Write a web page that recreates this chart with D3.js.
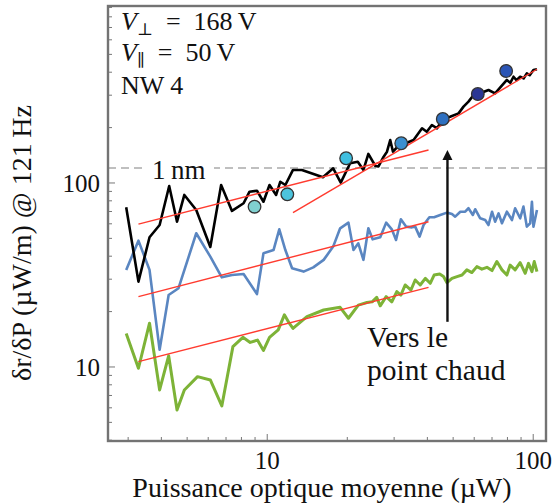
<!DOCTYPE html>
<html>
<head>
<meta charset="utf-8">
<script src="https://cdn.jsdelivr.net/npm/d3@7"></script>
<style>
  body { margin: 0; background: #fff; }
  svg text { fill: #111; }
</style>
</head>
<body>
<svg id="chart" width="552" height="504" font-family="'Liberation Serif', 'DejaVu Serif', serif"></svg>
<script>
// power (µW) and response δr/δP (µW/m)
const blackX = [2.95,3.28,3.61,3.94,4.28,4.58,4.88,5.41,6.11,6.71,7.37,8.15,8.58,9.15,9.68,10.2,10.8,11.2,11.7,12.5,13.5,16.2,17.7,18.9,20.5,21.9,23.0,24.0,25.5,26.2,27.4,28.2,29.0,29.7,31.8,33.5,35.5,38.2,39.8,41.6,43.5,46.0,48.7,52.4,54.7,57.1,59.7,63.2,67.9,71.9,75.2,79.6,82.0,84.3,86.5,89.3,92.0,94.6,97.0,100.2,103.3];
const blackY = [73.8,29.1,50.7,59.1,96.3,61.6,86.1,71.3,44.9,97.5,70.5,77.6,89.7,90.8,79.1,97.5,86.1,101.6,97.5,117.7,117.7,107.4,120.2,100.4,128,130.5,117.7,143.8,123.7,123,139,147.9,171.3,147.9,164.4,165.6,171.3,198.3,190,206.6,198.3,224.8,229.3,239,260,276.7,300.8,307.2,320,307.2,331,363,350,378,362,378,370,394,385,411,415];

const blueX = [2.95,3.28,3.61,3.94,4.26,4.64,5.41,6.11,6.75,7.37,8.15,9.15,9.68,10.56,11.1,11.7,12.4,13.7,14.9,16.3,17.7,18.8,20.2,21.1,22.0,23.0,24.0,24.9,26.6,28.0,29.4,30.5,31.8,33.3,35.0,36.0,37.4,38.7,40.7,42.4,44.7,47.4,49.5,50.9,53.2,55.5,57.1,59.3,60.5,63.2,66.0,67.9,70.0,71.9,74.1,76.3,79.6,83.2,85.5,89.3,91.9,94.6,97.4,98.9,100.2,103.3];
const blueY = [33.7,48.6,33.7,12.4,24.6,26.8,53.3,39.8,30.7,31.6,32.0,24.9,41.5,43.2,56.0,43.2,34.4,33.0,34.8,38.2,45.1,56.7,60.9,43.2,47.0,38.2,56.7,49.4,50.7,60.9,56.0,49.0,63.5,57.9,57.4,57.9,51.1,59.1,65.1,65.1,67.0,69.0,67.9,65.6,69.8,69.8,72.9,67.0,72.0,64.3,62.9,59.1,69.8,61.6,68.4,60.4,69.8,62.9,72.9,64.3,74.4,57.9,60.4,79.1,57.9,71.3];

const greenX = [2.95,3.28,3.61,3.94,4.26,4.58,4.88,5.47,6.11,6.75,7.43,8.10,8.63,9.19,9.68,10.2,11.0,11.6,12.1,12.5,14.1,16.3,18.8,20.2,22.0,23.7,24.8,25.8,26.6,28.0,29.4,30.7,31.8,33.0,34.7,36.0,37.6,39.3,41.0,42.4,44.5,46.0,47.4,49.5,51.7,54.0,56.3,58.8,61.4,64.1,67.0,70.0,73.0,76.3,79.6,81.9,85.5,89.3,93.3,96.0,98.9,100.9,103.3];
const greenY = [15.2,9.84,17.3,7.5,11.5,5.84,7.5,8.86,8.5,6.14,12.9,14.5,13.6,14.0,12.3,14.5,15.9,19.2,17.3,16.2,18.8,20.4,21.1,18.4,21.7,22.4,22.6,23.9,21.5,24.1,22.6,25.7,24.6,27.9,26.2,29.7,27.9,30.3,28.5,31.6,32.0,31.0,28.7,30.3,31.0,31.6,33.7,32.6,35.1,34.0,34.8,33.4,37.4,33.7,31.6,35.8,33.7,36.9,32.3,36.6,33.0,37.4,33.0];

// coloured markers on the black curve
const dotX = [8.96, 11.9, 19.8, 31.9, 45.7, 61.9, 79.1];
const dotY = [74.3, 86.8, 136.3, 164.4, 222.8, 304.6, 406];
const dotColors = ["#80d0d0", "#4cc3dc", "#40bfe0", "#3a8fd0", "#2f70c0", "#2b3794", "#2b55b5"];

// red power-law fits, [x0, x1] and [y0, y1]
const fitX = [[3.28, 40.4], [12.5, 103.3], [3.28, 40.4], [3.28, 40.4]];
const fitY = [[59.8, 151], [69.0, 415], [24.1, 61.6], [10.7, 27.1]];

const nmLevel = 120.6;       // "1 nm" dashed level
const arrowX = 47.6, arrowY = [17.6, 151];

const xTickLabels = [10, 100];
const yTickLabels = [10, 100];

const svg = d3.select("#chart");
const L = 108, R = 546, T = 6, B = 441;

const x = d3.scaleLog().domain([2.52, 111.7]).range([L, R]);
const y = d3.scaleLog().domain([3.96, 916]).range([B, T]);

// dashed 1 nm line
svg.append("line")
  .attr("x1", L).attr("x2", R)
  .attr("y1", y(nmLevel)).attr("y2", y(nmLevel))
  .attr("stroke", "#aaa").attr("stroke-width", 1.6)
  .attr("stroke-dasharray", "8,5");
svg.append("rect")
  .attr("x", 146).attr("y", 158).attr("width", 68).attr("height", 24)
  .attr("fill", "#fff");
svg.append("text").attr("x", 152).attr("y", 179)
  .attr("font-size", 27).text("1\u2009nm");

const line = d3.line().x(d => x(d[0])).y(d => y(d[1]));

svg.append("path").datum(d3.zip(greenX, greenY))
  .attr("d", line).attr("fill", "none")
  .attr("stroke", "#7db337").attr("stroke-width", 3).attr("stroke-linejoin", "round");
svg.append("path").datum(d3.zip(blueX, blueY))
  .attr("d", line).attr("fill", "none")
  .attr("stroke", "#5a86c1").attr("stroke-width", 2.6).attr("stroke-linejoin", "round");
svg.append("path").datum(d3.zip(blackX, blackY))
  .attr("d", line).attr("fill", "none")
  .attr("stroke", "#000").attr("stroke-width", 2.6).attr("stroke-linejoin", "round");

svg.selectAll("line.fit")
  .data(d3.range(fitX.length))
  .join("line").attr("class", "fit")
  .attr("x1", i => x(fitX[i][0])).attr("x2", i => x(fitX[i][1]))
  .attr("y1", i => y(fitY[i][0])).attr("y2", i => y(fitY[i][1]))
  .attr("stroke", "#ff3b2f").attr("stroke-width", 1.4);

svg.selectAll("circle.dot")
  .data(d3.range(dotX.length))
  .join("circle").attr("class", "dot")
  .attr("cx", i => x(dotX[i])).attr("cy", i => y(dotY[i]))
  .attr("r", 6.3)
  .attr("fill", i => dotColors[i])
  .attr("stroke", "#333").attr("stroke-width", 1.3);

// arrow "vers le point chaud"
svg.append("line")
  .attr("x1", x(arrowX)).attr("x2", x(arrowX))
  .attr("y1", y(arrowY[0])).attr("y2", y(arrowY[1]) + 6)
  .attr("stroke", "#111").attr("stroke-width", 2.4);
const ax = x(arrowX), ay = y(arrowY[1]);
svg.append("path")
  .attr("d", `M${ax},${ay} L${ax - 5},${ay + 10} L${ax + 5},${ay + 10} Z`)
  .attr("fill", "#111");
const hot = svg.append("text").attr("font-size", 29.5);
hot.append("tspan").attr("x", 367).attr("y", 347).text("Vers le");
hot.append("tspan").attr("x", 367).attr("y", 380).text("point chaud");

// axes with inward ticks
const xMinor = d3.range(3, 10).concat(d3.range(20, 100, 10));
const yMinor = d3.range(4, 10).concat(d3.range(20, 100, 10)).concat(d3.range(200, 901, 100));
svg.selectAll("line.xt").data(xMinor).join("line").attr("class", "xt")
  .attr("x1", d => x(d)).attr("x2", d => x(d))
  .attr("y1", B).attr("y2", B - 4)
  .attr("stroke", "#777").attr("stroke-width", 1);
svg.selectAll("line.xT").data(xTickLabels).join("line").attr("class", "xT")
  .attr("x1", d => x(d)).attr("x2", d => x(d))
  .attr("y1", B).attr("y2", B - 7)
  .attr("stroke", "#777").attr("stroke-width", 1);
svg.selectAll("line.yt").data(yMinor).join("line").attr("class", "yt")
  .attr("x1", L).attr("x2", L + 4)
  .attr("y1", d => y(d)).attr("y2", d => y(d))
  .attr("stroke", "#777").attr("stroke-width", 1);
svg.selectAll("line.yT").data(yTickLabels).join("line").attr("class", "yT")
  .attr("x1", L).attr("x2", L + 7)
  .attr("y1", d => y(d)).attr("y2", d => y(d))
  .attr("stroke", "#777").attr("stroke-width", 1);

svg.append("rect")
  .attr("x", L).attr("y", T).attr("width", R - L).attr("height", B - T)
  .attr("fill", "none").attr("stroke", "#737373").attr("stroke-width", 2.4);

svg.selectAll("text.xl").data(xTickLabels).join("text").attr("class", "xl")
  .attr("x", d => x(d)).attr("y", 469)
  .attr("text-anchor", "middle").attr("font-size", 25).text(d => d);
svg.selectAll("text.yl").data(yTickLabels).join("text").attr("class", "yl")
  .attr("x", 100).attr("y", d => y(d) + 9)
  .attr("text-anchor", "end").attr("font-size", 25).text(d => d);

svg.append("text").attr("x", 322).attr("y", 497)
  .attr("text-anchor", "middle").attr("font-size", 28)
  .text("Puissance optique moyenne (\u00b5W)");
svg.append("text")
  .attr("transform", "translate(31,243) rotate(-90)")
  .attr("text-anchor", "middle").attr("font-size", 28)
  .text("\u03b4r/\u03b4P (\u00b5W/m) @ 121\u2009Hz");

// top-left annotation
const ann = svg.append("g").attr("font-size", 26);
const t1 = ann.append("text").attr("x", 121).attr("y", 30);
t1.append("tspan").attr("font-style", "italic").text("V");
t1.append("tspan").attr("font-size", 17).attr("dy", 5).text("\u22a5");
t1.append("tspan").attr("dy", -5).text("\u2002=\u2002168\u2009V");
const t2 = ann.append("text").attr("x", 121).attr("y", 61);
t2.append("tspan").attr("font-style", "italic").text("V");
t2.append("tspan").attr("font-size", 17).attr("dy", 5).text("\u2225");
t2.append("tspan").attr("dy", -5).text("\u2002=\u200250\u2009V");
ann.append("text").attr("x", 121).attr("y", 94).text("NW 4");
</script>
</body>
</html>
